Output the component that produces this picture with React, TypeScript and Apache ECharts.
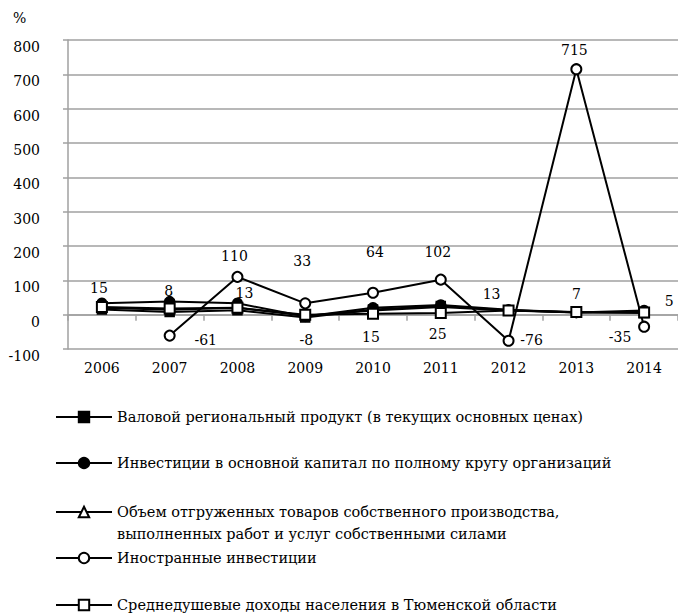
import React, { useEffect, useRef } from "react";
import * as echarts from "echarts";

const years = ["2006", "2007", "2008", "2009", "2010", "2011", "2012", "2013", "2014"];

const seriesNames = [
  "Валовой региональный продукт (в текущих основных ценах)",
  "Инвестиции в основной капитал по полному кругу организаций",
  "Объем отгруженных товаров собственного производства,\nвыполненных работ и услуг собственными силами",
  "Иностранные инвестиции",
  "Среднедушевые доходы населения в Тюменской области",
];

const grp = [15, 8, 13, -8, 15, 25, 13, 7, 5];
const investments = [33, 38, 33, -5, 20, 28, 14, 6, 12];
const shipped = [20, 14, 20, -3, 12, 22, 12, 6, 8];
const foreign = [null, -61, 110, 33, 64, 102, -76, 715, -35];
const income = [22, 18, 20, 0, 3, 5, 12, 8, 6];

const yTicks = { min: -100, max: 800, step: 100 };

// label placement (offsets from marker centre, px)
const grpLabelOffsets = [
  [-3, -22], [-1, -21], [7, -17], [1, 23], [-2, 27], [-3, 28], [-17, -16], [0, -18], [25, -12],
];
const foreignLabelOffsets = [
  [0, 0], [36, 4], [-3, -21], [-3, -42], [2, -41], [-3, -28], [23, -1], [-2, -19], [-24, 10],
];

const FONT = "DejaVu Serif";

export default function App() {
  const ref = useRef<HTMLDivElement>(null);
  useEffect(() => {
    if (!ref.current) return;
    const chart = echarts.init(ref.current, undefined, { renderer: "svg" });

    const labelStyle = { color: "#000", fontSize: 14, fontFamily: FONT };

    const grpData = grp.map((v, i) => ({
      value: v,
      label: { show: true, position: "inside", offset: grpLabelOffsets[i], ...labelStyle },
    }));
    const foreignData = foreign.map((v, i) =>
      v == null
        ? null
        : {
            value: v,
            label: { show: true, position: "inside", offset: foreignLabelOffsets[i], ...labelStyle },
          }
    );

    const common = {
      type: "line",
      color: "#000",
      lineStyle: { color: "#000", width: 2 },
      itemStyle: { color: "#000", borderColor: "#000", borderWidth: 1.5 },
      emphasis: { disabled: true },
      connectNulls: false,
    };

    const legendTops = [406, 452, 479, 547, 594];

    const legends = seriesNames.map((name, i) => ({
      data: [name],
      orient: "vertical",
      left: 55,
      top: legendTops[i],
      padding: 0,
      itemWidth: 56,
      itemHeight: 13,
      itemGap: 5,
      selectedMode: false,
      formatter: (n: string) => (n.indexOf("\n") >= 0 ? "\n" + n : n),
      textStyle: {
        color: "#000",
        fontSize: 14.5,
        fontFamily: FONT,
        lineHeight: 22,
      },
    }));

    chart.setOption({
      animation: false,
      textStyle: { fontFamily: FONT },
      title: {
        text: "%",
        left: 13,
        top: 11,
        padding: 0,
        textStyle: { color: "#000", fontSize: 14, fontWeight: "normal", fontFamily: FONT },
      },
      legend: legends,
      grid: { left: 68, right: 0, top: 40, bottom: 264, containLabel: false },
      xAxis: {
        type: "category",
        data: years,
        boundaryGap: true,
        axisLine: { onZero: true, lineStyle: { color: "#a0a0a0", width: 1.5 } },
        axisTick: { show: true, length: 6, lineStyle: { color: "#a0a0a0", width: 1.5 } },
        axisLabel: { color: "#000", fontSize: 14, fontFamily: FONT, margin: 12 },
        splitLine: { show: false },
      },
      yAxis: {
        type: "value",
        min: yTicks.min,
        max: yTicks.max,
        interval: yTicks.step,
        axisLine: { show: true, lineStyle: { color: "#a0a0a0", width: 1.5 } },
        axisTick: { show: true, length: 5, lineStyle: { color: "#a0a0a0", width: 1.5 } },
        axisLabel: {
          color: "#000",
          fontSize: 14,
          fontFamily: FONT,
          margin: 28,
          verticalAlign: "top",
        },
        splitLine: { show: true, lineStyle: { color: "#a0a0a0", width: 1.5 } },
      },
      series: [
        { ...common, name: seriesNames[0], symbol: "rect", symbolSize: 9, data: grpData, z: 3 },
        { ...common, name: seriesNames[1], symbol: "circle", symbolSize: 10, data: investments, z: 2 },
        { ...common, name: seriesNames[2], symbol: "emptyTriangle", symbolSize: 7, data: shipped, z: 2 },
        { ...common, name: seriesNames[3], symbol: "emptyCircle", symbolSize: 10, data: foreignData, z: 4 },
        { ...common, name: seriesNames[4], symbol: "emptyRect", symbolSize: 10, data: income, z: 5 },
      ],
    });
    return () => chart.dispose();
  }, []);
  return (
    <div
      ref={ref}
      style={{ position: "fixed", left: 0, top: 0, width: 678, height: 613, background: "#fff" }}
    />
  );
}
